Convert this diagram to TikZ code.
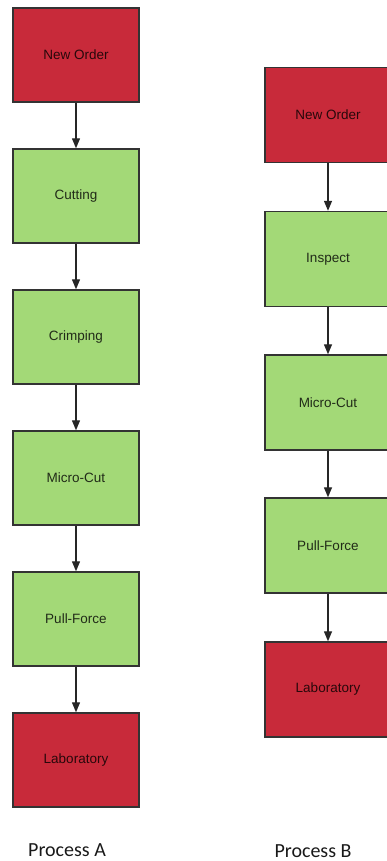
\documentclass[tikz,border=0pt]{standalone}
\usepackage{fontspec}
\setmainfont{Liberation Sans}
\newfontfamily\captionfont{Carlito}
\usetikzlibrary{arrows.meta}
\definecolor{boxred}{HTML}{C82A3A}
\definecolor{boxgreen}{HTML}{A3D977}
\definecolor{edgegray}{HTML}{333333}
\begin{document}
\begin{tikzpicture}[x=1pt,y=-1pt,
  stepbox/.style={draw=edgegray, line width=1.4pt, minimum width=126pt, minimum height=94pt,
    inner sep=0pt, font=\fontsize{13.5}{16}\selectfont, text=black!85},
  redbox/.style={stepbox, fill=boxred, text=black!80!boxred},
  greenbox/.style={stepbox, fill=boxgreen, text=black!80!boxgreen},
  flow/.style={draw=black!85, line width=1.3pt, -{Triangle[length=10pt,width=8pt]}},
  caption/.style={font=\captionfont\fontsize{20}{24}\selectfont, text=black!90, inner sep=0pt, anchor=base}
]
\useasboundingbox (0,0) rectangle (387,861);
\clip (0,0) rectangle (387,861);
% Process A
\node[redbox]   (a1) at (76,55)  {New Order};
\node[greenbox] (a2) at (76,196) {Cutting};
\node[greenbox] (a3) at (76,337) {Crimping};
\node[greenbox] (a4) at (76,478) {Micro-Cut};
\node[greenbox] (a5) at (76,619) {Pull-Force};
\node[redbox]   (a6) at (76,760) {Laboratory};
\foreach \i/\j in {a1/a2,a2/a3,a3/a4,a4/a5,a5/a6} \draw[flow] (\i) -- (\j);
% Process B
\node[redbox, minimum height=95pt]   (b1) at (328,115) {New Order};
\node[greenbox, minimum height=95pt] (b2) at (328,259) {Inspect};
\node[greenbox, minimum height=95pt] (b3) at (328,402.5) {Micro-Cut};
\node[greenbox, minimum height=95pt] (b4) at (328,545.5) {Pull-Force};
\node[redbox, minimum height=95pt]   (b5) at (328,689.5) {Laboratory};
\foreach \i/\j in {b1/b2,b2/b3,b3/b4,b4/b5} \draw[flow] (\i) -- (\j);
% captions
\node[caption] (ca) at (67,856) {Process A};
\node[caption] (cb) at (313,857) {Process B};
\end{tikzpicture}
\end{document}
